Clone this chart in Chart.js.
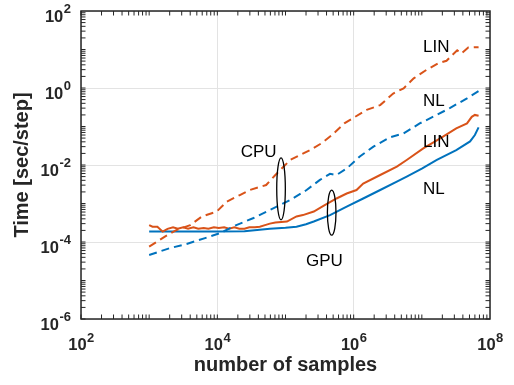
<!DOCTYPE html>
<html>
<head>
<meta charset="utf-8">
<script src="https://cdn.jsdelivr.net/npm/chart.js@4.4.0/dist/chart.umd.min.js"></script>
<style>
html,body{margin:0;padding:0;background:#fff;}
</style>
</head>
<body>
<canvas id="plot" width="514" height="385"></canvas>
<script>
// CPU, linear solver (orange dashed)
var cpuLinX = [1.0e3, 1.7e3, 2.5e3, 4.0e3, 5.9e3, 9.8e3, 1.38e4, 2.14e4, 3.0e4, 5.2e4, 7.1e4, 1.17e5, 2.3e5, 3.4e5, 4.8e5, 7.4e5, 1.55e6, 2.45e6, 3.8e6, 5.4e6, 7.6e6, 1.17e7, 1.74e7, 2.3e7, 2.8e7, 3.3e7, 3.8e7, 4.8e7, 6.8e7];
var cpuLinY = [7.6e-5, 1.38e-4, 2.04e-4, 2.75e-4, 4.57e-4, 6.17e-4, 1.12e-3, 1.66e-3, 2.24e-3, 3.02e-3, 5.5e-3, 1.35e-2, 2.45e-2, 3.7e-2, 6.0e-2, 0.123, 0.27, 0.36, 0.72, 0.98, 1.78, 2.95, 4.37, 5.1, 7.2, 9.5, 7.9, 11.2, 11.5];

// CPU, nonlinear solver (blue dashed)
var cpuNlX = [1.0e3, 2.0e3, 3.55e3, 6.6e3, 1.1e4, 1.9e4, 3.4e4, 5.9e4, 1.17e5, 2.04e5, 3.2e5, 4.5e5, 5.6e5, 7.9e5, 1.23e6, 1.95e6, 3.4e6, 5.4e6, 9.3e6, 1.66e7, 2.57e7, 4.6e7, 6.8e7];
var cpuNlY = [4.6e-5, 6.9e-5, 8.9e-5, 1.26e-4, 1.7e-4, 2.75e-4, 4.2e-4, 6.8e-4, 1.23e-3, 2.24e-3, 4.1e-3, 5.9e-3, 5.5e-3, 8.1e-3, 1.66e-2, 3.0e-2, 5.2e-2, 6.6e-2, 0.12, 0.20, 0.30, 0.54, 0.83];

// GPU, linear solver (orange solid)
var gpuLinX = [1.0e3, 1.12e3, 1.32e3, 1.58e3, 1.86e3, 2.24e3, 2.63e3, 3.16e3, 3.72e3, 4.47e3, 5.25e3, 6.3e3, 7.4e3, 8.9e3, 1.05e4, 1.26e4, 1.48e4, 1.78e4, 2.1e4, 2.5e4, 2.95e4, 3.55e4, 4.2e4, 5.0e4, 5.9e4, 7.1e4, 1.05e5, 1.45e5, 1.8e5, 2.6e5, 3.6e5, 5.6e5, 7.9e5, 1.1e6, 1.38e6, 2.45e6, 4.3e6, 6.0e6, 1.05e7, 1.86e7, 3.2e7, 4.6e7, 5.4e7, 6.0e7, 6.8e7];
var gpuLinY = [2.75e-4, 2.5e-4, 2.5e-4, 1.86e-4, 2.2e-4, 2.4e-4, 2.2e-4, 2.4e-4, 2.2e-4, 2.4e-4, 2.2e-4, 2.3e-4, 2.2e-4, 2.4e-4, 2.3e-4, 2.4e-4, 2.2e-4, 2.4e-4, 2.2e-4, 2.2e-4, 2.4e-4, 2.4e-4, 2.5e-4, 2.75e-4, 3.0e-4, 3.2e-4, 3.4e-4, 4.6e-4, 5.0e-4, 6.2e-4, 8.7e-4, 1.35e-3, 1.82e-3, 2.24e-3, 3.3e-3, 5.5e-3, 9.1e-3, 1.35e-2, 2.7e-2, 4.9e-2, 8.9e-2, 0.12, 0.178, 0.20, 0.19];

// GPU, nonlinear solver (blue solid)
var gpuNlX = [1.0e3, 3.16e3, 1.0e4, 2.5e4, 5.9e4, 1.0e5, 1.45e5, 2.0e5, 2.6e5, 4.5e5, 7.9e5, 1.38e6, 2.45e6, 4.3e6, 6.0e6, 1.0e7, 1.66e7, 3.2e7, 5.1e7, 6.0e7, 6.8e7];
var gpuNlY = [1.86e-4, 1.86e-4, 1.86e-4, 1.9e-4, 2.2e-4, 2.35e-4, 2.5e-4, 2.9e-4, 3.4e-4, 5.0e-4, 8.3e-4, 1.35e-3, 2.24e-3, 3.7e-3, 5.0e-3, 8.1e-3, 1.35e-2, 2.45e-2, 4.1e-2, 6.0e-2, 9.5e-2];

var xTicks = [1e2, 1e4, 1e6, 1e8];
var yTicks = [1e-6, 1e-4, 1e-2, 1e0, 1e2];
var xTickExp = ['2', '4', '6', '8'];
var yTickExp = ['-6', '-4', '-2', '0', '2'];

var xTitle = 'number of samples';
var yTitle = 'Time [sec/step]';

// text notes, anchored in data coordinates
var noteText = ['CPU', 'GPU', 'LIN', 'NL', 'LIN', 'NL'];
var noteX = [2.2e4, 2.0e5, 1.04e7, 1.04e7, 1.04e7, 1.04e7];
var noteY = [1.6e-2, 2.4e-5, 8.6, 0.34, 2.95e-2, 1.78e-3];

// ellipses grouping the CPU and GPU curves
var ringX = [8.6e4, 4.76e5];
var ringY = [2.4e-3, 5.8e-4];

var BLUE = '#0072BD';
var ORANGE = '#D95319';
var AXIS = '#262626';

function pts(xs, ys) {
    var out = [];
    for (var i = 0; i < xs.length; i++) out.push({x: xs[i], y: ys[i]});
    return out;
}

function setTicks(list) {
    return function(scale) {
        scale.ticks = list.map(function(v) { return {value: v}; });
    };
}

function drawLogTicks(ctx, scale, lo, hi, horiz, area) {
    var len = 4.5;
    for (var e = lo; e < hi; e++) {
        for (var m = 1; m <= 9; m++) {
            var v = m * Math.pow(10, e);
            var p = scale.getPixelForValue(v);
            ctx.beginPath();
            if (horiz) {
                ctx.moveTo(p, area.bottom); ctx.lineTo(p, area.bottom - len);
                ctx.moveTo(p, area.top); ctx.lineTo(p, area.top + len);
            } else {
                ctx.moveTo(area.left, p); ctx.lineTo(area.left + len, p);
                ctx.moveTo(area.right, p); ctx.lineTo(area.right - len, p);
            }
            ctx.stroke();
        }
    }
}

var decor = {
    id: 'decor',
    afterDraw: function(chart) {
        var ctx = chart.ctx;
        var a = chart.chartArea;
        var xs = chart.scales.x, ys = chart.scales.y;
        ctx.save();

        // box and inward ticks
        ctx.strokeStyle = AXIS;
        ctx.lineWidth = 1;
        drawLogTicks(ctx, xs, 2, 8, true, a);
        drawLogTicks(ctx, ys, -6, 2, false, a);
        ctx.lineWidth = 1.5;
        ctx.strokeRect(a.left, a.top, a.right - a.left, a.bottom - a.top);

        // tick labels 10^n
        ctx.fillStyle = AXIS;
        var big = 'bold 16.5px "Liberation Sans", Arial, sans-serif';
        var small = 'bold 13px "Liberation Sans", Arial, sans-serif';
        ctx.textBaseline = 'alphabetic';
        ctx.textAlign = 'left';
        xTicks.forEach(function(v, i) {
            var p = xs.getPixelForValue(v);
            ctx.font = big; var w1 = ctx.measureText('10').width;
            ctx.font = small; var w2 = ctx.measureText(xTickExp[i]).width;
            var x0 = p - (w1 + w2) / 2;
            ctx.font = big; ctx.fillText('10', x0, a.bottom + 31);
            ctx.font = small; ctx.fillText(xTickExp[i], x0 + w1 + 0.5, a.bottom + 22.5);
        });
        yTicks.forEach(function(v, i) {
            var p = ys.getPixelForValue(v);
            ctx.font = small; var w2 = ctx.measureText(yTickExp[i]).width;
            ctx.font = big; var w1 = ctx.measureText('10').width;
            var xr = a.left - 10;
            ctx.font = big; ctx.fillText('10', xr - w2 - w1 - 0.5, p + 10.5);
            ctx.font = small; ctx.fillText(yTickExp[i], xr - w2, p + 1.5);
        });

        // axis titles
        ctx.font = 'bold 20px "Liberation Sans", Arial, sans-serif';
        ctx.textAlign = 'center';
        ctx.fillText(xTitle, (a.left + a.right) / 2, 370.5);
        ctx.save();
        ctx.translate(28, (a.top + a.bottom) / 2);
        ctx.rotate(-Math.PI / 2);
        ctx.fillText(yTitle, 0, 0);
        ctx.restore();

        // notes
        ctx.fillStyle = '#000';
        ctx.textAlign = 'left';
        ctx.font = '17px "Liberation Sans", Arial, sans-serif';
        noteText.forEach(function(t, i) {
            ctx.fillText(t, xs.getPixelForValue(noteX[i]), ys.getPixelForValue(noteY[i]));
        });

        // ellipses
        ctx.strokeStyle = '#000';
        ctx.lineWidth = 1.3;
        var rx = [4.3, 4.3], ry = [31, 22.5];
        ringX.forEach(function(v, i) {
            ctx.beginPath();
            ctx.ellipse(xs.getPixelForValue(v), ys.getPixelForValue(ringY[i]), rx[i], ry[i], 0, 0, Math.PI * 2);
            ctx.stroke();
        });

        ctx.restore();
    }
};

var ctx = document.getElementById('plot').getContext('2d');
var myChart = new Chart(ctx, {
    type: 'line',
    data: {
        datasets: [
            {label: 'CPU LIN', data: pts(cpuLinX, cpuLinY), borderColor: ORANGE, borderDash: [8, 5]},
            {label: 'CPU NL', data: pts(cpuNlX, cpuNlY), borderColor: BLUE, borderDash: [8, 5]},
            {label: 'GPU LIN', data: pts(gpuLinX, gpuLinY), borderColor: ORANGE},
            {label: 'GPU NL', data: pts(gpuNlX, gpuNlY), borderColor: BLUE}
        ]
    },
    options: {
        responsive: false,
        animation: false,
        layout: {padding: {left: 81, top: 11, right: 24, bottom: 66}},
        elements: {
            point: {radius: 0},
            line: {borderWidth: 2, tension: 0, fill: false}
        },
        plugins: {legend: {display: false}, tooltip: {enabled: false}},
        scales: {
            x: {
                type: 'logarithmic', min: 1e2, max: 1e8,
                afterBuildTicks: setTicks(xTicks),
                ticks: {display: false},
                grid: {color: '#e3e3e3', lineWidth: 1, drawTicks: false},
                border: {display: false}
            },
            y: {
                type: 'logarithmic', min: 1e-6, max: 1e2,
                afterBuildTicks: setTicks(yTicks),
                ticks: {display: false},
                grid: {color: '#e3e3e3', lineWidth: 1, drawTicks: false},
                border: {display: false}
            }
        }
    },
    plugins: [decor]
});
</script>
</body>
</html>
